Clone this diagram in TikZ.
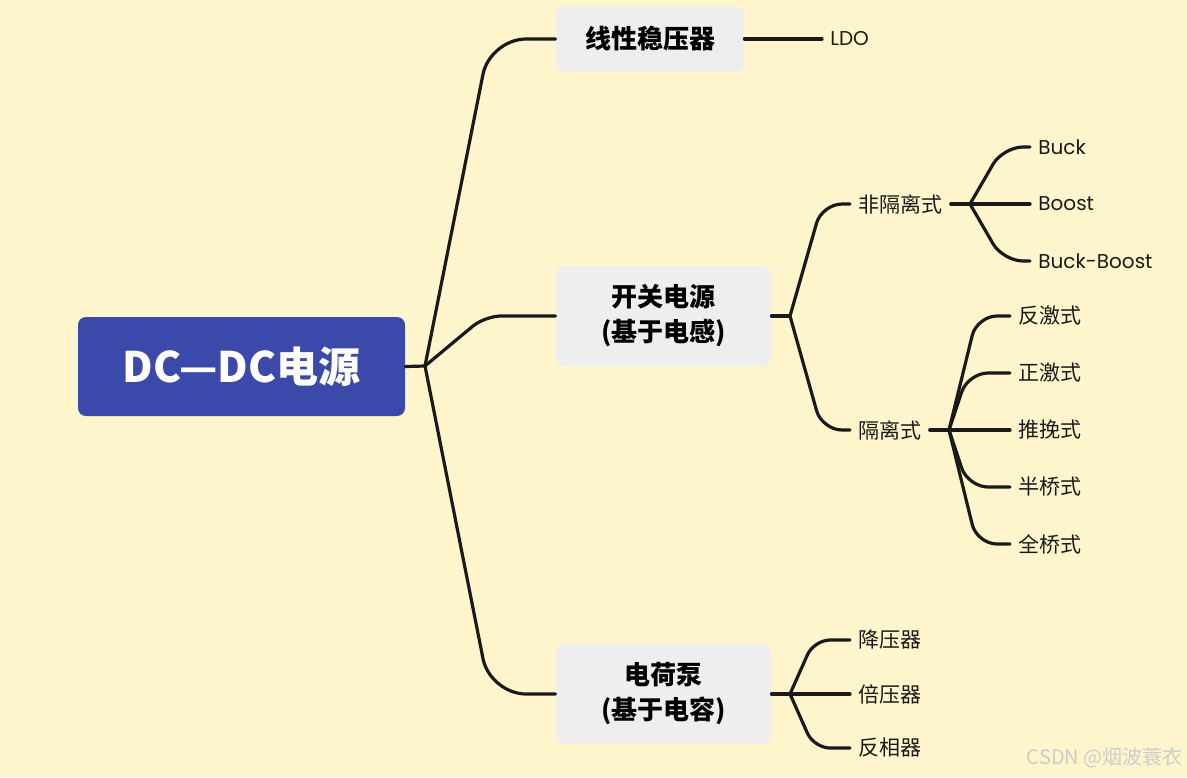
\documentclass[tikz,border=0pt]{standalone}
\usepackage{fontspec}
\setmainfont{Noto Sans CJK SC}
\newfontfamily\latinfont{Poppins}
\usetikzlibrary{positioning}
\definecolor{bgyellow}{HTML}{FFF5CC}
\definecolor{rootblue}{HTML}{3B49AB}
\definecolor{boxgray}{HTML}{EEEEEE}
\definecolor{linedark}{HTML}{1A1A1A}

\begin{document}
\begin{tikzpicture}[x=0.5pt, y=-0.5pt,
  root/.style={rectangle, rounded corners=4pt, fill=rootblue, text=white,
               minimum width=163.5pt, minimum height=49.5pt,
               font=\fontsize{21}{25}\selectfont\bfseries},
  topic/.style={rectangle, rounded corners=4pt, fill=boxgray, align=center,
                minimum width=107.5pt, minimum height=50pt,
                font=\fontsize{13}{17.5}\selectfont\bfseries},
  leaf/.style={anchor=west, inner xsep=4pt, inner ysep=0pt, text=linedark,
               font=\fontsize{10.5}{12}\selectfont},
  latin/.style={leaf, font=\latinfont\fontsize{10}{12}\selectfont},
  branch/.style={draw=linedark, line width=1.6pt, line cap=round, rounded corners=10pt},
  mark text/.style={font=\fontsize{10}{11}\selectfont, text=gray!40, anchor=east, inner sep=0pt}
]
\fill[bgyellow] (0,0) rectangle (1187,777);
\useasboundingbox (0,0) rectangle (1187,777);

% main topics
\node[root] (dc) at (241.5,366.5) {DC—DC电源};
\node[topic, minimum width=94pt, minimum height=32.5pt] (lin) at (650,39) {线性稳压器};
\node[topic] (sw) at (663.5,316) {开关电源\\(基于电感)};
\node[topic] (cp) at (663.5,694) {电荷泵\\(基于电容)};

% leaves
\node[latin] (ldo) at (822,39) {LDO};
\node[leaf] (fg) at (850,204) {非隔离式};
\node[leaf] (gl) at (850,430) {隔离式};
\node[latin] (buck) at (1030,147) {Buck};
\node[latin] (boost) at (1030,204) {Boost};
\node[latin] (bb) at (1030,261) {Buck-Boost};
\foreach \y/\name/\txt in {316/fj/反激式, 373/zj/正激式, 430/tw/推挽式, 487/bq/半桥式, 544/qq/全桥式}
  \node[leaf] (\name) at (1010,\y) {\txt};
\foreach \y/\name/\txt in {640/jy/降压器, 694/by/倍压器, 748/fx/反相器}
  \node[leaf] (\name) at (850,\y) {\txt};

\coordinate (f0) at (425,366);
\coordinate (f1) at (790,316);
\coordinate (f2) at (970,204);
\coordinate (f3) at (949,430);
\coordinate (f4) at (790,694);

% connectors
\draw[branch] (dc.east) -- (f0);
\draw[branch, rounded corners=18pt] (f0) -- (490,39) -- (lin.west);
\draw[branch, rounded corners=8pt] (f0) -- (485,316) -- (sw.west);
\draw[branch, rounded corners=18pt] (f0) -- (490,694) -- (cp.west);
\draw[branch] (lin.east) -- (ldo.west);

\draw[branch] (sw.east) -- (f1);
\draw[branch] (f1) -- (822,204) -- (fg.west);
\draw[branch] (f1) -- (822,430) -- (gl.west);

\draw[branch] (fg.east) -- (f2);
\draw[branch] (f2) -- (1003,147) -- (buck.west);
\draw[branch] (f2) -- (boost.west);
\draw[branch] (f2) -- (1003,261) -- (bb.west);

\draw[branch] (gl.east) -- (f3);
\draw[branch] (f3) -- (977,316) -- (fj.west);
\draw[branch] (f3) -- (968,373) -- (zj.west);
\draw[branch] (f3) -- (tw.west);
\draw[branch] (f3) -- (968,487) -- (bq.west);
\draw[branch] (f3) -- (977,544) -- (qq.west);

\draw[branch] (cp.east) -- (f4);
\draw[branch, rounded corners=8pt] (f4) -- (814,640) -- (jy.west);
\draw[branch] (f4) -- (by.west);
\draw[branch, rounded corners=8pt] (f4) -- (814,748) -- (fx.west);

\node[mark text] (wm) at (1183,758) {CSDN @烟波蓑衣};
\end{tikzpicture}
\end{document}
